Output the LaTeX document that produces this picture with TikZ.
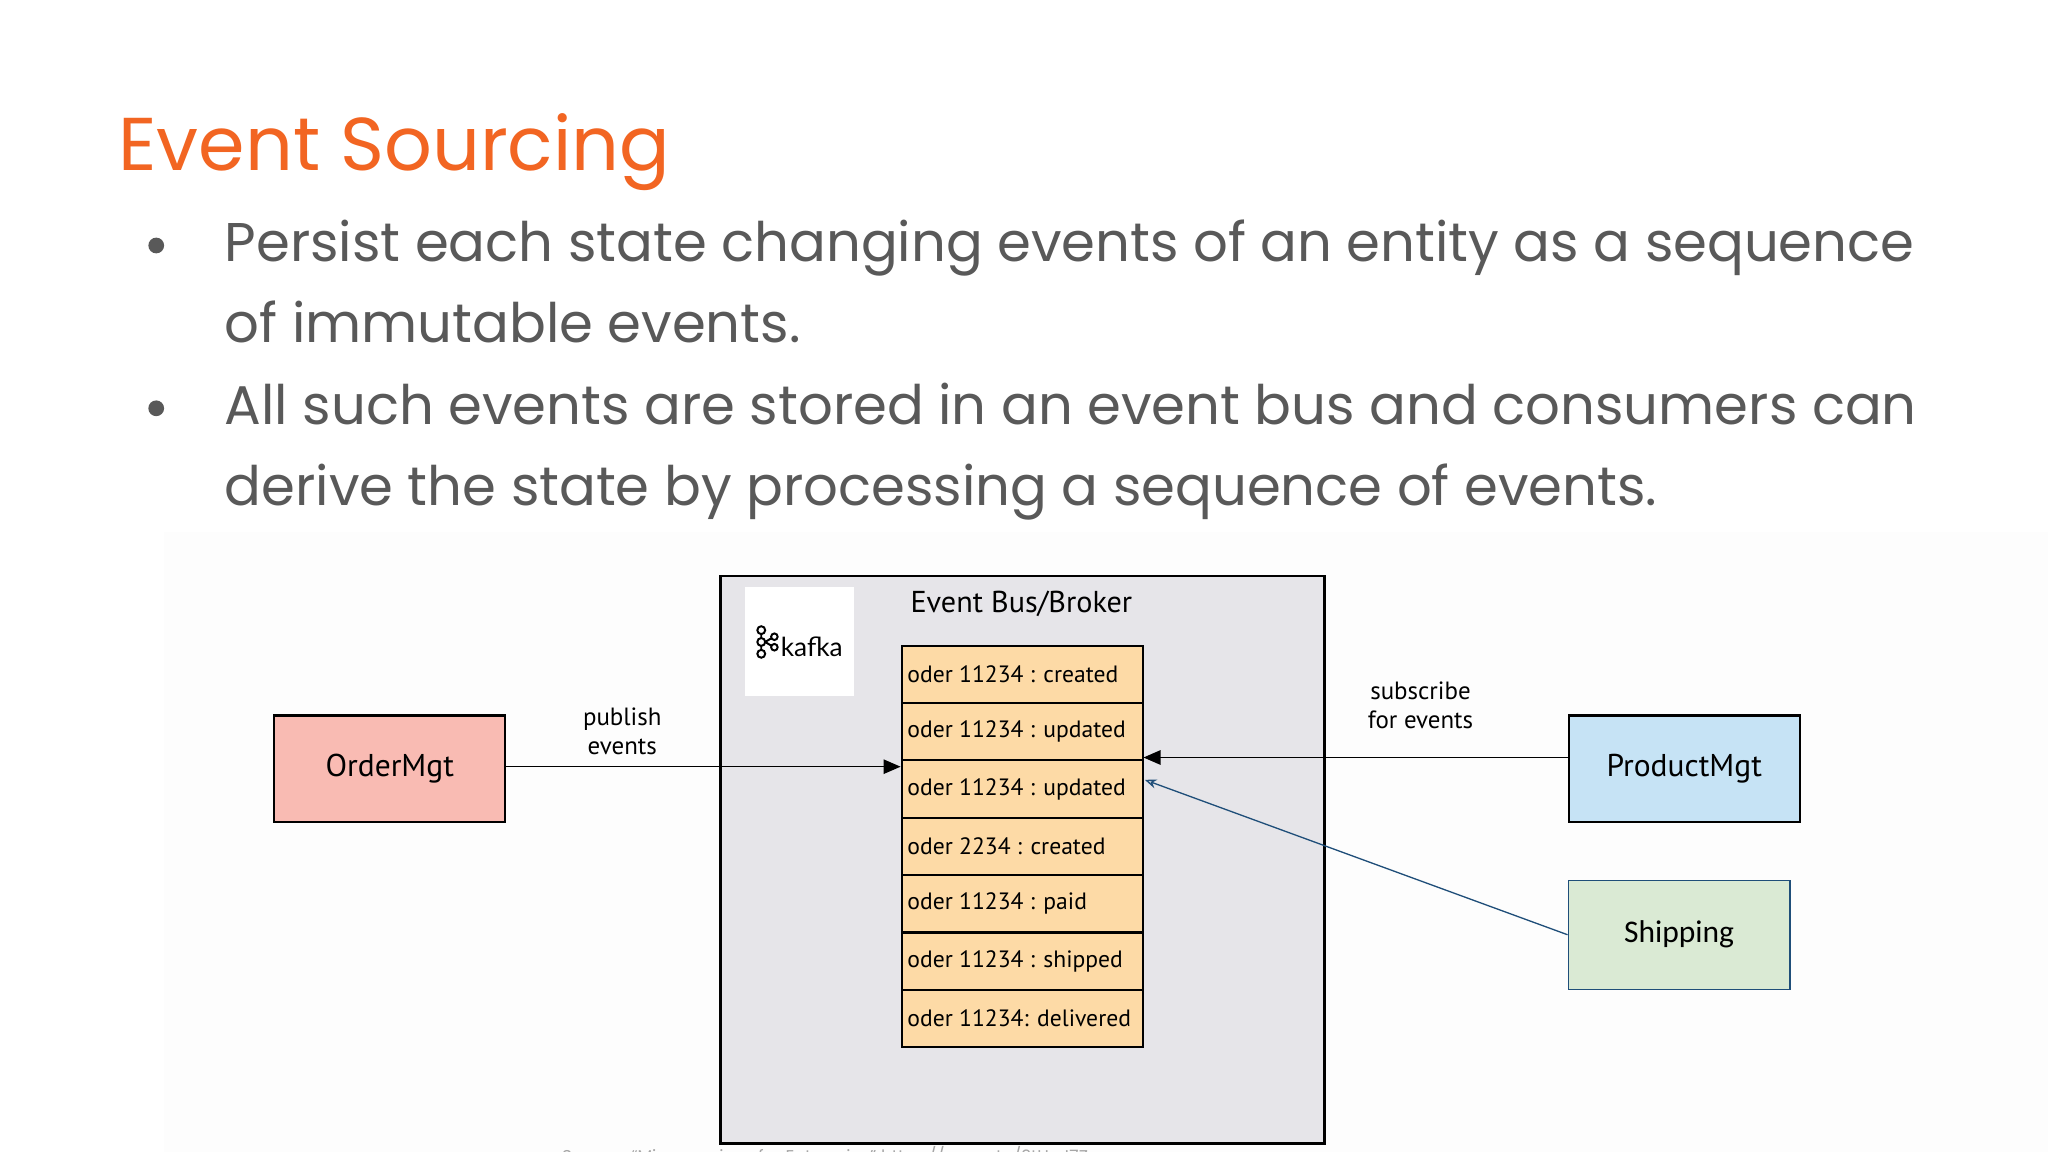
\documentclass[tikz,border=0pt]{standalone}
\usepackage{fontspec}
\setmainfont{Poppins}
\newfontfamily\dgm{PT Sans}
\usetikzlibrary{arrows.meta}
\definecolor{ttl}{HTML}{F26522}
\definecolor{bodyc}{HTML}{595959}
\definecolor{busc}{HTML}{E6E5E9}
\definecolor{evc}{HTML}{FDDAA6}
\definecolor{ordc}{HTML}{F9BBB3}
\definecolor{prodc}{HTML}{C6E3F5}
\definecolor{shipc}{HTML}{DAEAD4}
\definecolor{shipb}{HTML}{1F4E79}
\begin{document}
\begin{tikzpicture}[x=1pt,y=-1pt,
  ev/.style={draw=black,line width=1.6pt,fill=evc,minimum width=184pt,minimum height=43.7pt,inner sep=0pt,anchor=north west},
  evt/.style={font=\dgm\fontsize{18}{20}\selectfont,anchor=west,inner sep=0pt},
  svc/.style={draw=black,line width=1.8pt,minimum width=176pt,minimum height=81pt,inner sep=0pt,font=\dgm\fontsize{24}{26}\selectfont,anchor=north west},
  lbl/.style={font=\dgm\fontsize{19}{22}\selectfont,align=center},
  dot/.style={circle,fill=bodyc,inner sep=0pt,minimum size=12pt},
  bul/.style={font=\fontsize{41.5}{50}\selectfont,text=bodyc,anchor=base west,inner sep=0pt}]
\useasboundingbox (0,0) rectangle (1560,877.5);
\fill[white] (0,0) rectangle (1560,877.5);
\begin{scope}
\clip (0,0) rectangle (1560,877.5);
\node[font=\fontsize{57}{60}\selectfont,text=ttl,anchor=base west,inner sep=0pt] (title) at (90,130) {Event Sourcing};
\node[dot] (b1) at (119,187) {};
\node[dot] (b2) at (119,311) {};
\node[bul] (l1) at (171,199) {Persist each state changing events of an entity as a sequence};
\node[bul] (l2) at (171,261) {of immutable events.};
\node[bul] (l3) at (171,323) {All such events are stored in an event bus and consumers can};
\node[bul] (l4) at (171,385) {derive the state by processing a sequence of events.};
% diagram
\fill[black!0.8] (125,405) rectangle (1560,877.5);
\node[draw=black,line width=1.8pt,fill=busc,minimum width=460pt,minimum height=432pt,anchor=north west,inner sep=0pt] (bus) at (548,438) {};
\node[fill=white,minimum width=83pt,minimum height=83pt,anchor=north west,inner sep=0pt] (kbox) at (567,447) {};
\node[inner sep=0pt] (klogo) at (609,489) {\raisebox{-2pt}{\tikz[x=1pt,y=1pt]{\foreach \yy in {0,9,18}{\draw[line width=1.5pt] (0,\yy) circle (3pt);} \draw[line width=1.5pt](0,3)--(0,6) (0,12)--(0,15) (3,9)--(8,12) (3,9)--(8,6); \draw[line width=1.5pt] (10,13) circle (2.5pt) (10,5) circle (2.5pt);}}\,{\fontspec{Lato}\fontsize{20}{20}\selectfont kafka}};
\node[font=\dgm\fontsize{23}{24}\selectfont] (bt) at (778,460) {Event Bus/Broker};
\foreach \t [count=\i from 0] in {oder 11234 : created,oder 11234 : updated,oder 11234 : updated,oder 2234 : created,oder 11234 : paid,oder 11234 : shipped,oder 11234: delivered}{
  \node[ev] (e\i) at (686,{491+43.7*\i}) {};
  \node[evt] (t\i) at ([xshift=5pt]e\i.west) {\t};
}
\node[svc,fill=ordc] (ord) at (208,544) {OrderMgt};
\node[svc,fill=prodc] (prod) at (1194,544) {ProductMgt};
\node[draw=shipb,line width=1pt,fill=shipc,minimum width=169pt,minimum height=83pt,anchor=north west,inner sep=0pt,font=\fontspec{Carlito}\fontsize{24}{26}\selectfont] (ship) at (1194,670) {Shipping};
\draw[line width=1pt,-{Triangle[length=13pt,width=11pt]}] (ord.east |- 0,584) -- (686,584);
\node[lbl] (pl) at (474,557) {publish\\events};
\draw[line width=1pt,-{Triangle[length=13pt,width=11pt]}] (prod.west |- 0,577) -- (871,577);
\node[lbl] (sl) at (1082,537) {subscribe\\for events};
\draw[shipb,line width=1pt,-{Stealth[length=9pt,width=7pt,open]}] (ship.west) -- (872,594);
\node[font=\fontsize{13}{14}\selectfont,text=black!35,anchor=north west,inner sep=0pt] (src) at (428,873) {Source: “Microservices for Enterprise” https://amzn.to/2tUqJ7Z};
\end{scope}
\end{tikzpicture}
\end{document}
